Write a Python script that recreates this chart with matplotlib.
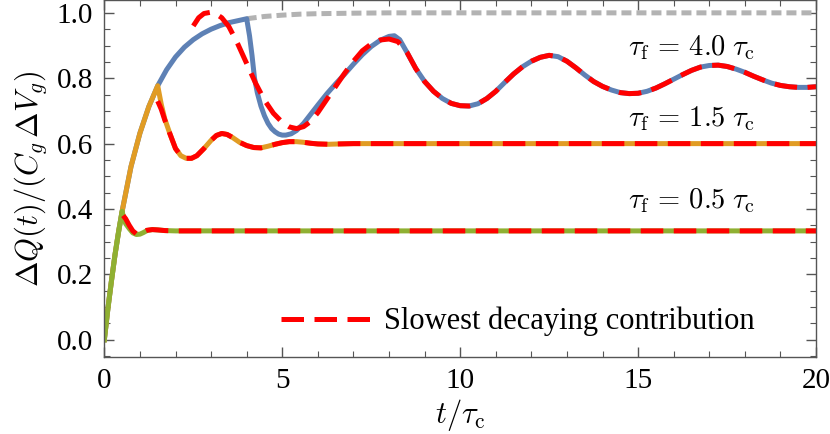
import matplotlib
matplotlib.use("Agg")
import matplotlib.pyplot as plt
from matplotlib.ticker import MultipleLocator

# ---- data (t in units of tau_c) ----
# common rise (tau_f = 4.0 curve up to the switch-off)
rise_t = [0.0, 0.1, 0.2, 0.3, 0.4, 0.5, 0.75, 1.0, 1.25, 1.5, 1.75, 2.0, 2.25,
          2.5, 2.75, 3.0, 3.25, 3.5, 3.75, 4.0]
rise_q = [0.0, 0.095, 0.18, 0.26, 0.33, 0.393, 0.53, 0.632, 0.713, 0.777,
          0.826, 0.865, 0.895, 0.918, 0.936, 0.95, 0.961, 0.97, 0.976, 0.982]

# tau_f = 4.0 after switch-off
blue_t = [4.08, 4.15, 4.22, 4.3, 4.4, 4.5, 4.6, 4.7, 4.8, 4.9, 5.0, 5.1, 5.25,
          5.4, 5.6, 5.8, 6.0, 6.25, 6.5, 6.75, 7.0, 7.25, 7.5, 7.75, 8.0, 8.15,
          8.3, 8.5, 8.75, 9.0, 9.25, 9.5, 9.75, 10.0, 10.25, 10.5, 10.75, 11.0,
          11.25, 11.5, 11.75, 12.0, 12.25, 12.5, 12.75, 13.0, 13.25, 13.5,
          13.75, 14.0, 14.25, 14.5, 14.75, 15.0, 15.25, 15.5, 15.75, 16.0,
          16.25, 16.5, 16.75, 17.0, 17.25, 17.5, 17.75, 18.0, 18.25, 18.5,
          18.75, 19.0, 19.25, 19.5, 19.75, 20.0]
blue_q = [0.93, 0.87, 0.80, 0.755, 0.715, 0.685, 0.662, 0.646, 0.636, 0.629,
          0.626, 0.626, 0.630, 0.640, 0.662, 0.690, 0.718, 0.752, 0.783, 0.812,
          0.843, 0.872, 0.897, 0.916, 0.928, 0.930, 0.918, 0.880, 0.830, 0.790,
          0.760, 0.738, 0.723, 0.716, 0.715, 0.722, 0.738, 0.760, 0.787, 0.813,
          0.835, 0.852, 0.864, 0.870, 0.866, 0.852, 0.832, 0.810, 0.790, 0.775,
          0.764, 0.756, 0.753, 0.754, 0.760, 0.770, 0.783, 0.797, 0.811, 0.824,
          0.834, 0.839, 0.840, 0.836, 0.828, 0.818, 0.806, 0.795, 0.785, 0.778,
          0.774, 0.772, 0.772, 0.774]

# tau_f = 1.5
orange_t = [1.5, 1.6, 1.7, 1.85, 2.0, 2.15, 2.3, 2.45, 2.6, 2.8, 3.0, 3.15, 3.3,
            3.45, 3.6, 3.8, 4.0, 4.2, 4.4, 4.6, 4.8, 5.0, 5.2, 5.4, 5.6, 5.8,
            6.0, 6.3, 6.6, 7.0, 20.0]
orange_q = [0.777, 0.72, 0.675, 0.628, 0.585, 0.563, 0.555, 0.555, 0.563, 0.585,
            0.610, 0.625, 0.631, 0.628, 0.619, 0.604, 0.594, 0.588, 0.587,
            0.592, 0.598, 0.603, 0.606, 0.606, 0.604, 0.601, 0.599, 0.598,
            0.599, 0.600, 0.600]

# tau_f = 0.5
green_t = [0.55, 0.6, 0.7, 0.8, 0.9, 1.0, 1.1, 1.2, 1.35, 1.5, 1.7, 2.0, 20.0]
green_q = [0.37, 0.355, 0.34, 0.327, 0.322, 0.323, 0.328, 0.334, 0.337, 0.336,
           0.334, 0.333, 0.333]

# saturation curve without switch-off
gray_t = [4.0, 4.5, 5.0, 5.5, 6.0, 7.0, 8.0, 20.0]
gray_q = [0.982, 0.989, 0.993, 0.996, 0.9975, 0.999, 1.0, 1.0]

# slowest decaying contributions
red4_t = [2.5, 2.65, 2.8, 3.0, 3.15, 3.3, 3.5, 3.75, 4.0, 4.25, 4.5, 4.75, 5.0,
          5.2, 5.4, 5.6, 5.8, 6.0, 6.25, 6.5, 6.75, 7.0, 7.25, 7.5, 7.75, 8.0,
          8.25, 8.5]
red4_q = [0.96, 0.985, 0.998, 1.002, 0.996, 0.985, 0.958, 0.905, 0.845, 0.785,
          0.733, 0.693, 0.665, 0.651, 0.646, 0.652, 0.668, 0.695, 0.735, 0.775,
          0.815, 0.852, 0.884, 0.905, 0.917, 0.920, 0.912, 0.880]
red15_t = [1.5, 1.6, 1.7]
red15_q = [0.73, 0.705, 0.672]
red05_t = [0.53, 0.6, 0.7, 0.8, 0.9, 1.0, 1.1, 1.2]
red05_q = [0.38, 0.37, 0.35, 0.333, 0.324, 0.325, 0.33, 0.335]

labels = [r"$\tau_\mathrm{f}\,=\,4.0\;\tau_\mathrm{c}$",
          r"$\tau_\mathrm{f}\,=\,1.5\;\tau_\mathrm{c}$",
          r"$\tau_\mathrm{f}\,=\,0.5\;\tau_\mathrm{c}$"]
label_q = [0.895, 0.677, 0.425]

BLUE = "#5E81B5"
ORANGE = "#E19C24"
GREEN = "#8FB032"
GRAY = "#B3B3B3"
RED = "#FF0000"

plt.rcParams["font.family"] = ["Liberation Serif", "DejaVu Serif"]
plt.rcParams["mathtext.fontset"] = "cm"
plt.rcParams["font.size"] = 21

fig = plt.figure(figsize=(8.3, 4.34), dpi=100)
ax = fig.add_axes([0.1257, 0.178, 0.8575, 0.821])

lw = 3.6
ax.plot(gray_t, gray_q, color=GRAY, lw=lw, dashes=(2.0, 1.0))
ax.plot(rise_t + blue_t, rise_q + blue_q, color=BLUE, lw=lw)

# orange and green follow the same rise up to their switch-off
i15 = rise_t.index(1.5)
ax.plot(rise_t[:i15] + orange_t, rise_q[:i15] + orange_q, color=ORANGE, lw=lw)
i05 = rise_t.index(0.5)
ax.plot(rise_t[:i05 + 1] + green_t, rise_q[:i05 + 1] + green_q, color=GREEN, lw=lw)

dash = (4.5, 2.1)
tail4 = [k for k, t in enumerate(blue_t) if t > 8.5]
ax.plot(red4_t + [blue_t[k] for k in tail4], red4_q + [blue_q[k] for k in tail4],
        color=RED, lw=lw, dashes=dash, dash_capstyle="butt")
tail15 = [k for k, t in enumerate(orange_t) if t > 1.7]
ax.plot(red15_t + [orange_t[k] for k in tail15],
        red15_q + [orange_q[k] for k in tail15],
        color=RED, lw=lw, dashes=dash, dash_capstyle="butt")
tail05 = [k for k, t in enumerate(green_t) if t > 1.2]
ax.plot(red05_t + [green_t[k] for k in tail05],
        red05_q + [green_q[k] for k in tail05],
        color=RED, lw=lw, dashes=dash, dash_capstyle="butt",
        label="Slowest decaying contribution")

for txt, q in zip(labels, label_q):
    ax.text(16.5, q, txt, ha="center", va="center", fontsize=20.5)

ax.set_xlim(0, 20)
ax.set_ylim(-0.052, 1.038)
ax.xaxis.set_major_locator(MultipleLocator(5))
ax.xaxis.set_minor_locator(MultipleLocator(1))
ax.yaxis.set_major_locator(MultipleLocator(0.2))
ax.yaxis.set_minor_locator(MultipleLocator(0.05))
ax.yaxis.set_major_formatter(matplotlib.ticker.FormatStrFormatter("%.1f"))
ax.tick_params(which="both", direction="in", top=True, right=True,
               color="#555555")
ax.tick_params(which="major", length=7, width=1, pad=8)
ax.tick_params(which="minor", length=4, width=0.8)
for s in ax.spines.values():
    s.set_color("#555555")
    s.set_linewidth(1)

ax.set_xlabel(r"$t/\tau_\mathrm{c}$", fontsize=22, labelpad=2)
ax.set_ylabel(r"$\Delta Q(t)/(C_g\,\Delta V_g)$", fontsize=22, labelpad=6)

ax.legend(loc="lower left", bbox_to_anchor=(0.21, -0.02), frameon=False,
          handlelength=2.9, handletextpad=0.45, fontsize=22)

fig.savefig("out.png", dpi=100)
